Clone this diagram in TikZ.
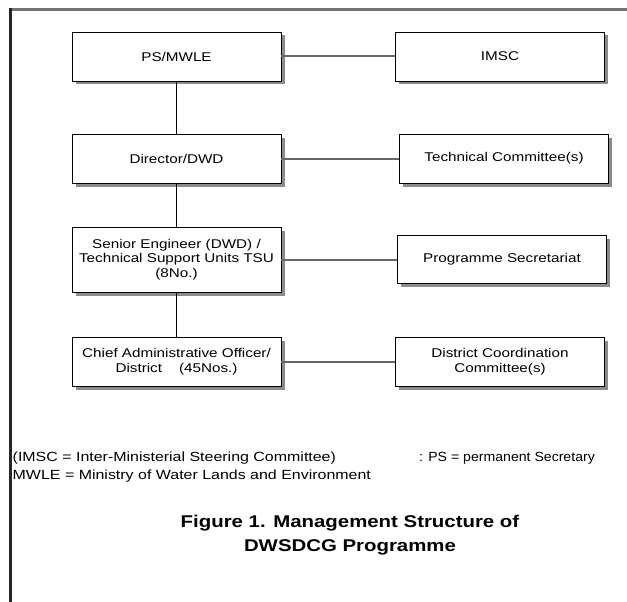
\documentclass[tikz,border=0pt]{standalone}
\usepackage{fontspec}
\setmainfont{Liberation Sans}[FakeStretch=1.2]
\newfontfamily\notenarrow{Liberation Sans}[FakeStretch=1.06]
\usetikzlibrary{shadows}

\begin{document}
\begin{tikzpicture}[x=1pt, y=1pt,
	unit/.style = {draw, line width=0.9pt, fill=white, minimum width=209pt, minimum height=49pt, inner sep=0pt, align=center,
		font=\fontsize{12.7}{14.5}\selectfont,
		drop shadow={shadow xshift=3.5pt, shadow yshift=-3.5pt, fill=black!45, opacity=1}},
	link/.style = {draw=black!60, line width=2pt},
	down/.style = {draw=black, line width=0.9pt},
	note/.style = {anchor=west, inner sep=0pt, font=\fontsize{13.3}{15}\selectfont}]
	\useasboundingbox (0,0) rectangle (627,-602);
	\draw[black!55, line width=2.5pt] (9,-9.5) -- (627,-9.5);
	\draw[black!85, line width=3pt] (10.5,-8.25) -- (10.5,-602);
	\node[unit] (psmwle) at (176.5,-56.5) {PS/MWLE};
	\node[unit] (imsc) at (500,-56.5) {IMSC};
	\node[unit] (director) at (176.5,-158.5) {Director/DWD};
	\node[unit] (techcom) at (504,-158.5) {Technical Committee(s)};
	\node[unit, minimum height=65pt] (senior) at (176.5,-259.5) {Senior Engineer (DWD) /\\Technical Support Units TSU\\(8No.)};
	\node[unit, minimum height=48pt] (progsec) at (502,-259.5) {Programme Secretariat};
	\node[unit] (chief) at (176.5,-361.5) {Chief Administrative Officer/\\District\ \ \ \ (45Nos.)};
	\node[unit] (distcom) at (500,-361.5) {District Coordination\\Committee(s)};
	\draw[link] (psmwle) -- (imsc);
	\draw[link] (director) -- (techcom);
	\draw[link] (senior) -- (progsec);
	\draw[link] (chief) -- (distcom);
	\draw[down] (psmwle) -- (director);
	\draw[down] (director) -- (senior);
	\draw[down] (senior) -- (chief);
	\node[note] (imscnote) at (12.5,-458) {(IMSC = Inter-Ministerial Steering Committee)};
	\node[note, font=\notenarrow\fontsize{13.3}{15}\selectfont] (psnote) at (419,-458) {: PS = permanent Secretary};
	\node[note] (mwlenote) at (12.5,-476.5) {MWLE = Ministry of Water Lands and Environment};
	\node[align=center, font=\bfseries\fontsize{17}{24}\selectfont] (caption) at (350,-535) {Figure 1. Management Structure of\\DWSDCG Programme};
\end{tikzpicture}
\end{document}
